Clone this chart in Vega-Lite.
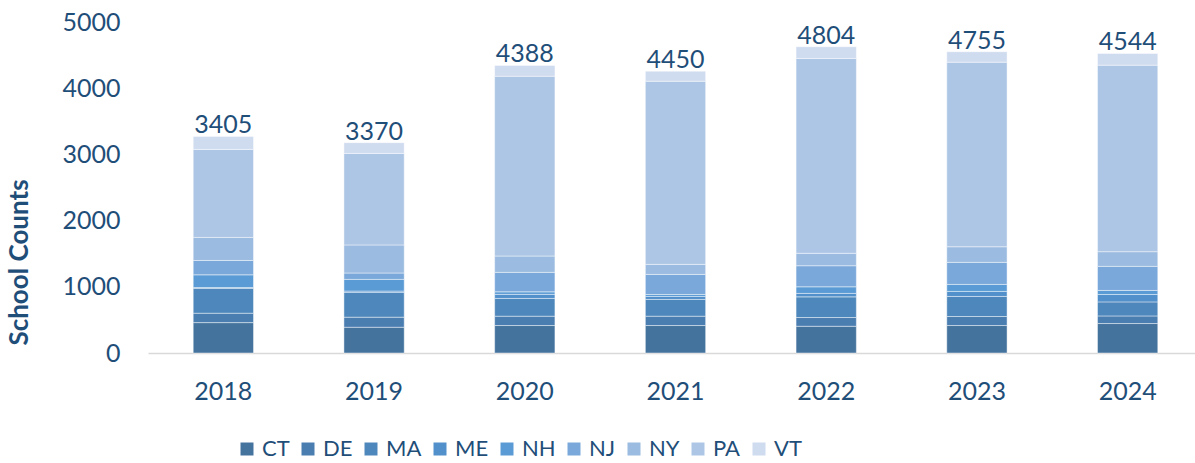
{
  "$schema": "https://vega.github.io/schema/vega-lite/v6.json",
  "width": 1055,
  "height": 331,
  "autosize": {"type": "none"},
  "padding": {"left": 148, "top": 22, "right": 0, "bottom": 110},
  "config": {"font": "Lato", "view": {"stroke": null}},
  "data": {"values": [
    {"year":"2018","state":"CT","value":459,"total":3405},
    {"year":"2018","state":"DE","value":142,"total":3405},
    {"year":"2018","state":"MA","value":373,"total":3405},
    {"year":"2018","state":"ME","value":15,"total":3405},
    {"year":"2018","state":"NH","value":192,"total":3405},
    {"year":"2018","state":"NJ","value":217,"total":3405},
    {"year":"2018","state":"NY","value":348,"total":3405},
    {"year":"2018","state":"PA","value":1329,"total":3405},
    {"year":"2018","state":"VT","value":197,"total":3405},
    {"year":"2019","state":"CT","value":389,"total":3370},
    {"year":"2019","state":"DE","value":152,"total":3370},
    {"year":"2019","state":"MA","value":374,"total":3370},
    {"year":"2019","state":"ME","value":20,"total":3370},
    {"year":"2019","state":"NH","value":177,"total":3370},
    {"year":"2019","state":"NJ","value":96,"total":3370},
    {"year":"2019","state":"NY","value":424,"total":3370},
    {"year":"2019","state":"PA","value":1383,"total":3370},
    {"year":"2019","state":"VT","value":162,"total":3370},
    {"year":"2020","state":"CT","value":415,"total":4388},
    {"year":"2020","state":"DE","value":141,"total":4388},
    {"year":"2020","state":"MA","value":268,"total":4388},
    {"year":"2020","state":"ME","value":61,"total":4388},
    {"year":"2020","state":"NH","value":39,"total":4388},
    {"year":"2020","state":"NJ","value":294,"total":4388},
    {"year":"2020","state":"NY","value":247,"total":4388},
    {"year":"2020","state":"PA","value":2716,"total":4388},
    {"year":"2020","state":"VT","value":162,"total":4388},
    {"year":"2021","state":"CT","value":415,"total":4450},
    {"year":"2021","state":"DE","value":141,"total":4450},
    {"year":"2021","state":"MA","value":253,"total":4450},
    {"year":"2021","state":"ME","value":45,"total":4450},
    {"year":"2021","state":"NH","value":30,"total":4450},
    {"year":"2021","state":"NJ","value":303,"total":4450},
    {"year":"2021","state":"NY","value":152,"total":4450},
    {"year":"2021","state":"PA","value":2766,"total":4450},
    {"year":"2021","state":"VT","value":152,"total":4450},
    {"year":"2022","state":"CT","value":404,"total":4804},
    {"year":"2022","state":"DE","value":132,"total":4804},
    {"year":"2022","state":"MA","value":312,"total":4804},
    {"year":"2022","state":"ME","value":52,"total":4804},
    {"year":"2022","state":"NH","value":100,"total":4804},
    {"year":"2022","state":"NJ","value":318,"total":4804},
    {"year":"2022","state":"NY","value":188,"total":4804},
    {"year":"2022","state":"PA","value":2944,"total":4804},
    {"year":"2022","state":"VT","value":177,"total":4804},
    {"year":"2023","state":"CT","value":415,"total":4755},
    {"year":"2023","state":"DE","value":136,"total":4755},
    {"year":"2023","state":"MA","value":303,"total":4755},
    {"year":"2023","state":"ME","value":76,"total":4755},
    {"year":"2023","state":"NH","value":106,"total":4755},
    {"year":"2023","state":"NJ","value":333,"total":4755},
    {"year":"2023","state":"NY","value":236,"total":4755},
    {"year":"2023","state":"PA","value":2788,"total":4755},
    {"year":"2023","state":"VT","value":158,"total":4755},
    {"year":"2024","state":"CT","value":445,"total":4544},
    {"year":"2024","state":"DE","value":115,"total":4544},
    {"year":"2024","state":"MA","value":212,"total":4544},
    {"year":"2024","state":"ME","value":112,"total":4544},
    {"year":"2024","state":"NH","value":61,"total":4544},
    {"year":"2024","state":"NJ","value":364,"total":4544},
    {"year":"2024","state":"NY","value":221,"total":4544},
    {"year":"2024","state":"PA","value":2818,"total":4544},
    {"year":"2024","state":"VT","value":177,"total":4544}
  ]},
  "encoding": {
    "x": {
      "field": "year", "type": "ordinal", "title": null,
      "scale": {"paddingInner": 0.6, "paddingOuter": 0.3},
      "axis": {"labelAngle": 0, "labelFontSize": 25, "labelColor": "#1f4e79", "labelPadding": 26, "ticks": false, "domainColor": "#d9d9d9", "domainWidth": 1.5, "grid": false}
    }
  },
  "layer": [
    {
      "mark": {"type": "bar", "stroke": "#ffffff", "strokeWidth": 0.8, "strokeOpacity": 0.55},
      "encoding": {
        "y": {
          "field": "value", "type": "quantitative", "stack": "zero",
          "scale": {"domain": [0, 5000], "nice": false},
          "title": "School Counts",
          "axis": {"values": [0,1000,2000,3000,4000,5000], "format": "d", "labelFontSize": 25, "labelColor": "#1f4e79", "labelPadding": 28, "ticks": false, "domain": false, "grid": false,
            "titleFontSize": 26, "titleFontWeight": "bold", "titleColor": "#1f4e79", "titleX": -116, "titleY": 240}
        },
        "color": {
          "field": "state", "type": "nominal",
          "scale": {"domain": ["CT","DE","MA","ME","NH","NJ","NY","PA","VT"],
                    "range": ["#44739e","#4a7db0","#4e87bb","#5290cb","#5b9bd5","#7aa8da","#9bbbe0","#adc6e5","#cfdbef"]},
          "legend": {"title": null, "orient": "none", "legendX": 88, "legendY": 416, "direction": "horizontal",
            "symbolType": "square", "symbolSize": 169, "symbolStrokeWidth": 0, "labelFontSize": 22, "labelColor": "#1f4e79", "labelOffset": 4, "columnPadding": 7}
        },
        "order": {"field": "state", "type": "nominal", "sort": "ascending"}
      }
    },
    {
      "transform": [
        {"aggregate": [{"op": "sum", "field": "value", "as": "top"}, {"op": "max", "field": "total", "as": "label"}], "groupby": ["year"]}
      ],
      "mark": {"type": "text", "fontSize": 25, "color": "#1f4e79", "baseline": "alphabetic", "dy": -3},
      "encoding": {
        "y": {"field": "top", "type": "quantitative"},
        "text": {"field": "label", "type": "quantitative", "format": "d"}
      }
    }
  ]
}
